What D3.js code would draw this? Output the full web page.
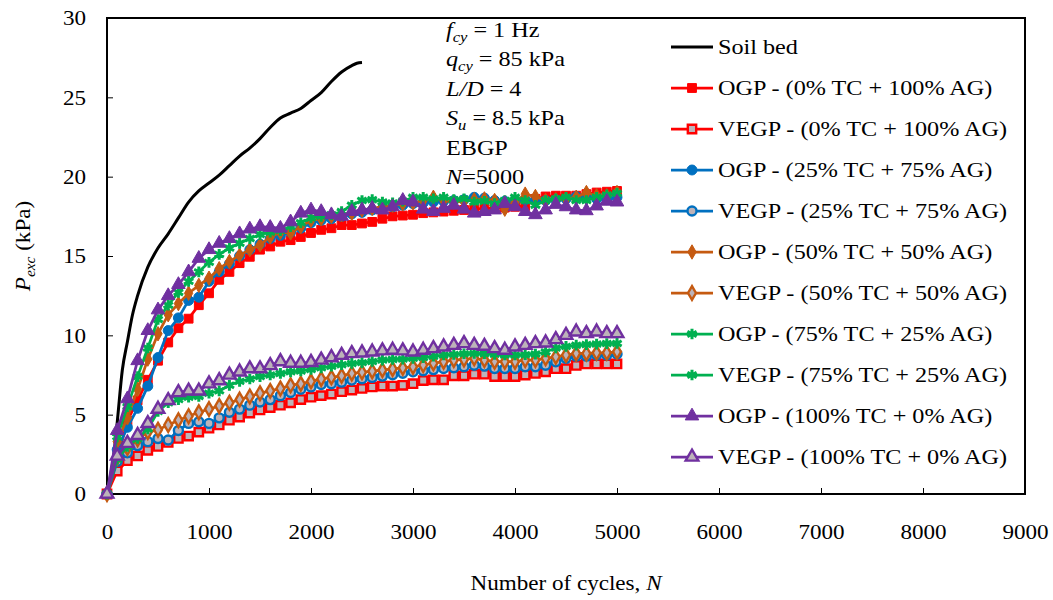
<!DOCTYPE html>
<html>
<head>
<meta charset="utf-8">
<script src="https://cdn.jsdelivr.net/npm/d3@7"></script>
<style>
  html, body { margin: 0; padding: 0; background: #fff; }
  svg { display: block; }
  text { font-family: "Liberation Serif", "Times New Roman", serif; fill: #000; }
</style>
</head>
<body>
<svg id="chart" width="1053" height="600"></svg>
<script>
// ---------------- DATA ----------------
const xTicks = [0, 1000, 2000, 3000, 4000, 5000, 6000, 7000, 8000, 9000];
const yTicks = [0, 5, 10, 15, 20, 25, 30];

const cycles = [0, 100, 200, 300, 400, 500, 600, 700, 800, 900,
  1000, 1100, 1200, 1300, 1400, 1500, 1600, 1700, 1800, 1900,
  2000, 2100, 2200, 2300, 2400, 2500, 2600, 2700, 2800, 2900,
  3000, 3100, 3200, 3300, 3400, 3500, 3600, 3700, 3800, 3900,
  4000, 4100, 4200, 4300, 4400, 4500, 4600, 4700, 4800, 4900, 5000];

const soilCycles = [0, 50, 100, 150, 200, 250, 300, 400, 500, 600, 700, 800, 900, 1000,
  1100, 1200, 1300, 1400, 1500, 1600, 1700, 1800, 1900, 2000, 2100, 2200, 2300, 2400, 2450, 2500];
const soilBed = [0, 1.5, 4.5, 7.8, 9.6, 11.3, 12.5, 14.3, 15.5, 16.4, 17.4, 18.4, 19.1, 19.6,
  20.1, 20.7, 21.3, 21.8, 22.4, 23.1, 23.7, 24.0, 24.3, 24.8, 25.3, 26.0, 26.6, 27.0, 27.15, 27.2];

const ogp0 = [0, 2.2, 4.6, 5.9, 7.2, 8.4, 9.55, 10.45, 11.05, 11.9,
  12.65, 13.5, 14.0, 14.55, 14.95, 15.4, 15.6, 15.9, 16.0, 16.2,
  16.45, 16.65, 16.75, 16.95, 16.95, 17.05, 17.15, 17.35, 17.5, 17.55,
  17.6, 17.7, 17.75, 17.8, 17.85, 17.9, 17.95, 18.0, 18.0, 18.05,
  18.1, 18.15, 18.6, 18.75, 18.8, 18.8, 18.8, 18.9, 19.0, 19.05, 19.1];
const vegp0 = [0, 1.45, 2.1, 2.4, 2.75, 3.0, 3.25, 3.5, 3.65, 3.9,
  4.15, 4.35, 4.65, 4.85, 5.1, 5.3, 5.45, 5.6, 5.75, 5.95,
  6.1, 6.2, 6.3, 6.45, 6.55, 6.65, 6.75, 6.8, 6.8, 6.85,
  6.95, 7.15, 7.2, 7.2, 7.45, 7.45, 7.55, 7.55, 7.4, 7.4,
  7.4, 7.5, 7.6, 7.7, 7.9, 7.9, 8.1, 8.2, 8.2, 8.2, 8.2];
const ogp25 = [0, 2.8, 4.2, 5.4, 6.8, 8.6, 10.3, 11.1, 12.2, 12.4,
  13.4, 14.0, 14.5, 15.0, 15.4, 15.75, 16.1, 16.3, 16.5, 16.75,
  17.1, 17.25, 17.35, 17.5, 17.65, 17.75, 17.9, 18.0, 18.1, 18.2,
  18.3, 18.35, 18.4, 18.45, 18.5, 18.55, 18.7, 18.65, 18.5, 18.45,
  18.5, 18.55, 18.5, 18.5, 18.55, 18.6, 18.75, 18.7, 18.6, 18.55, 18.7];
const vegp25 = [0, 2.05, 2.6, 3.05, 3.3, 3.5, 3.4, 4.0, 4.45, 4.55,
  4.45, 4.8, 5.15, 5.35, 5.6, 5.8, 5.95, 6.2, 6.4, 6.6,
  6.75, 6.9, 6.95, 7.05, 7.18, 7.26, 7.35, 7.43, 7.52, 7.61,
  7.7, 7.77, 7.84, 7.91, 7.96, 8.02, 8.12, 8.06, 7.91, 7.91,
  7.91, 8.02, 8.02, 8.12, 8.34, 8.55, 8.69, 8.69, 8.76, 8.76, 8.82];
const ogp50 = [0, 3.3, 4.8, 6.6, 8.5, 10.1, 11.3, 12.0, 12.65, 13.15,
  13.6, 14.2, 14.65, 15.05, 15.4, 15.7, 16.2, 16.5, 16.45, 16.85,
  17.25, 17.35, 17.5, 17.6, 17.7, 17.9, 18.0, 18.1, 18.2, 18.3,
  18.35, 18.5, 18.7, 18.5, 18.4, 18.45, 18.55, 18.6, 18.5, 17.95,
  18.4, 18.9, 18.75, 18.5, 18.55, 18.6, 18.7, 19.0, 18.8, 18.8, 19.0];
const vegp50 = [0, 2.3, 2.9, 3.45, 3.9, 4.05, 4.35, 4.65, 4.9, 5.15,
  5.35, 5.55, 5.75, 5.95, 6.15, 6.35, 6.5, 6.65, 6.85, 6.95,
  7.1, 7.25, 7.35, 7.45, 7.6, 7.67, 7.74, 7.81, 7.88, 7.95,
  8.02, 8.13, 8.24, 8.34, 8.44, 8.48, 8.55, 8.44, 8.34, 8.34,
  8.34, 8.44, 8.44, 8.55, 8.65, 8.76, 8.86, 8.86, 8.9, 8.9, 8.96];
const ogp75 = [0, 3.6, 5.5, 7.4, 9.2, 11.0, 11.9, 12.7, 13.4, 14.0,
  14.6, 15.1, 15.5, 15.8, 16.1, 16.35, 16.5, 16.6, 16.85, 17.1,
  17.4, 17.5, 17.6, 17.8, 18.2, 18.5, 18.55, 18.4, 18.35, 18.45,
  18.7, 18.7, 18.6, 18.7, 18.55, 18.6, 18.4, 18.45, 18.3, 18.5,
  18.7, 18.5, 18.2, 18.5, 18.6, 18.7, 18.5, 18.5, 18.7, 18.85, 18.95];
const vegp75 = [0, 2.2, 3.0, 3.5, 4.1, 5.2, 5.75, 5.95, 6.1, 6.15,
  6.35, 6.5, 6.85, 7.1, 7.25, 7.4, 7.5, 7.6, 7.7, 7.75,
  7.85, 7.95, 8.05, 8.15, 8.23, 8.28, 8.35, 8.44, 8.48, 8.5,
  8.55, 8.6, 8.68, 8.76, 8.8, 8.84, 8.86, 8.84, 8.8, 8.76,
  8.76, 8.78, 8.82, 8.95, 9.2, 9.3, 9.38, 9.42, 9.45, 9.48, 9.49];
const ogp100 = [0, 4.0, 6.0, 8.4, 10.3, 11.6, 12.5, 13.2, 14.0, 14.85,
  15.4, 15.8, 16.1, 16.4, 16.7, 16.85, 16.8, 16.75, 17.15, 17.7,
  17.9, 17.8, 17.6, 17.5, 17.8, 17.9, 18.0, 17.9, 18.1, 18.5,
  18.4, 17.95, 17.8, 18.0, 18.2, 17.95, 17.7, 17.8, 17.9, 18.3,
  18.1, 17.8, 17.6, 17.9, 18.25, 18.1, 17.9, 17.85, 18.15, 18.45, 18.4];
const vegp100 = [0, 2.4, 3.2, 3.7, 4.45, 5.35, 5.9, 6.4, 6.5, 6.5,
  6.95, 7.15, 7.5, 7.7, 7.9, 7.9, 8.1, 8.35, 8.25, 8.25,
  8.3, 8.45, 8.6, 8.75, 8.86, 8.9, 8.96, 9.03, 9.07, 9.03,
  8.96, 9.07, 9.17, 9.28, 9.38, 9.49, 9.38, 9.32, 9.17, 9.07,
  9.28, 9.38, 9.49, 9.53, 9.74, 10.01, 10.22, 10.12, 10.22, 10.12, 10.12];

const seriesNames = [
  "OGP - (0% TC + 100% AG)", "VEGP - (0% TC + 100% AG)",
  "OGP - (25% TC + 75% AG)", "VEGP - (25% TC + 75% AG)",
  "OGP - (50% TC + 50% AG)", "VEGP - (50% TC + 50% AG)",
  "OGP - (75% TC + 25% AG)", "VEGP - (75% TC + 25% AG)",
  "OGP - (100% TC + 0% AG)", "VEGP - (100% TC + 0% AG)"];
const seriesValues = [ogp0, vegp0, ogp25, vegp25, ogp50, vegp50, ogp75, vegp75, ogp100, vegp100];
const soilName = "Soil bed";

// ---------------- STYLE ----------------
const colors = ["#FF0000", "#FF0000", "#0070C0", "#0070C0", "#C55A11", "#C55A11",
                "#00B050", "#00B050", "#7030A0", "#7030A0"];
const symbols = [d3.symbolSquare, d3.symbolSquare, d3.symbolCircle, d3.symbolCircle,
                 d3.symbolDiamond, d3.symbolDiamond, d3.symbolAsterisk, d3.symbolAsterisk,
                 d3.symbolTriangle, d3.symbolTriangle];
const symSize = [78, 70, 78, 64, 60, 54, 80, 80, 80, 70];
const hollowFill = "#bdb3b9";
const stretchX = 1.1;

const plot = { left: 107, top: 18, right: 1025, bottom: 494 };

const svg = d3.select("#chart");
const x = d3.scaleLinear().domain([0, 9000]).range([plot.left, plot.right]);
const y = d3.scaleLinear().domain([0, 30]).range([plot.bottom, plot.top]);

// axes
const xAxis = d3.axisBottom(x).tickValues(xTicks).tickSizeInner(-6).tickSizeOuter(0).tickPadding(30)
  .tickFormat(d3.format("d"));
const gx = svg.append("g").attr("transform", `translate(0,${plot.bottom})`).call(xAxis);
const yAxis = d3.axisLeft(y).tickValues(yTicks).tickSizeInner(-6).tickSizeOuter(0).tickPadding(21)
  .tickFormat(d3.format("d"));
const gy = svg.append("g").attr("transform", `translate(${plot.left},0)`).call(yAxis);
[gx, gy].forEach(g => {
  g.select(".domain").remove();
  g.selectAll(".tick line").attr("stroke", "#000").attr("stroke-width", 1);
  g.selectAll(".tick text").attr("font-size", 21).attr("font-family", "Liberation Serif");
});

// plot frame
svg.append("rect")
  .attr("x", plot.left).attr("y", plot.top)
  .attr("width", plot.right - plot.left).attr("height", plot.bottom - plot.top)
  .attr("fill", "none").attr("stroke", "#000").attr("stroke-width", 2);

// soil bed
const soilLine = d3.line().x(d => x(d[0])).y(d => y(d[1])).curve(d3.curveMonotoneX);
svg.append("path")
  .datum(soilCycles.map((c, i) => [c, soilBed[i]]))
  .attr("d", soilLine).attr("fill", "none").attr("stroke", "#000").attr("stroke-width", 3);

// series
const line = d3.line().x(d => x(d[0])).y(d => y(d[1]));
function drawMarker(sel, i) {
  const hollow = i % 2 === 1;
  const isStar = symbols[i] === d3.symbolAsterisk;
  sel.attr("d", d3.symbol().type(symbols[i]).size(symSize[i])())
    .attr("fill", isStar ? "none" : (hollow ? hollowFill : colors[i]))
    .attr("stroke", colors[i])
    .attr("stroke-width", isStar ? 3 : (hollow ? 2.4 : 1));
}
seriesValues.forEach((vals, i) => {
  const pts = cycles.map((c, k) => [c, vals[k]]);
  const g = svg.append("g");
  g.append("path").datum(pts).attr("d", line)
    .attr("fill", "none").attr("stroke", colors[i]).attr("stroke-width", 2.75);
  g.selectAll("path.m").data(pts).enter().append("path").attr("class", "m")
    .attr("transform", d => `translate(${x(d[0])},${y(d[1])})`)
    .call(s => drawMarker(s, i));
});

// legend
const legX0 = 671, legX1 = 713, legText = 718, legY0 = 47, legStep = 41;
const lg = svg.append("g");
lg.append("line").attr("x1", legX0).attr("x2", legX1).attr("y1", legY0).attr("y2", legY0)
  .attr("stroke", "#000").attr("stroke-width", 3);
lg.append("text").attr("x", legText).attr("y", legY0 + 7).attr("font-size", 22).text(soilName);
seriesNames.forEach((name, i) => {
  const yy = legY0 + legStep * (i + 1);
  lg.append("line").attr("x1", legX0).attr("x2", legX1).attr("y1", yy).attr("y2", yy)
    .attr("stroke", colors[i]).attr("stroke-width", 2.75);
  lg.append("path").attr("transform", `translate(${(legX0 + legX1) / 2},${yy})`).call(s => drawMarker(s, i));
  lg.append("text").attr("x", legText).attr("y", yy + 7).attr("font-size", 22).text(name);
});

// annotation block
const ann = svg.append("g").attr("font-size", 22);
const annX = 446, annY0 = 37, annStep = 29.5;
function subLine(row, main, sub, rest, italicMain) {
  const t = ann.append("text").attr("x", annX).attr("y", annY0 + annStep * row);
  t.append("tspan").attr("font-style", italicMain ? "italic" : null).text(main);
  if (sub) t.append("tspan").attr("font-style", "italic").attr("font-size", 15).attr("dy", 5).text(sub);
  t.append("tspan").attr("dy", sub ? -5 : 0).text(rest);
}
subLine(0, "f", "cy", " = 1 Hz", true);
subLine(1, "q", "cy", " = 85 kPa", true);
(function () {
  const t = ann.append("text").attr("x", annX).attr("y", annY0 + annStep * 2);
  t.append("tspan").attr("font-style", "italic").text("L/D");
  t.append("tspan").text(" = 4");
})();
subLine(3, "S", "u", " = 8.5 kPa", true);
ann.append("text").attr("x", annX).attr("y", annY0 + annStep * 4).text("EBGP");
(function () {
  const t = ann.append("text").attr("x", annX).attr("y", annY0 + annStep * 5);
  t.append("tspan").attr("font-style", "italic").text("N");
  t.append("tspan").text("=5000");
})();

// axis titles
const yt = svg.append("text").attr("transform", "translate(30,246) rotate(-90)")
  .attr("text-anchor", "middle").attr("font-size", 21);
yt.append("tspan").attr("font-style", "italic").text("P");
yt.append("tspan").attr("font-style", "italic").attr("font-size", 14).attr("dy", 5).text("exc");
yt.append("tspan").attr("dy", -5).text(" (kPa)");

const xt = svg.append("text").attr("x", 566).attr("y", 590)
  .attr("text-anchor", "middle").attr("font-size", 21);
xt.append("tspan").text("Number of cycles, ");
xt.append("tspan").attr("font-style", "italic").text("N");

// horizontal stretch of all text (reference glyphs are wider than tall)
svg.selectAll("text").each(function () {
  const t = d3.select(this);
  const tx = +t.attr("x") || 0, ty = +t.attr("y") || 0;
  const tr = t.attr("transform") || "";
  t.attr("transform", `${tr} translate(${tx},${ty}) scale(${stretchX},1) translate(${-tx},${-ty})`);
});
</script>
</body>
</html>
